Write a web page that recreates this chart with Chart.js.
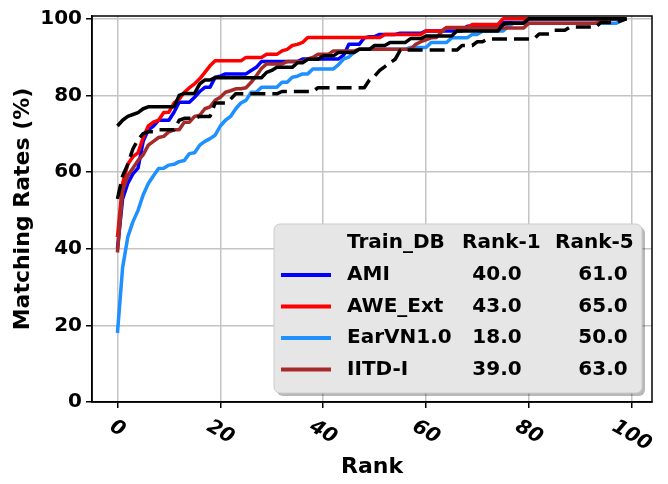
<!DOCTYPE html>
<html>
<head>
<meta charset="utf-8">
<script src="https://cdn.jsdelivr.net/npm/chart.js@4.4.1/dist/chart.umd.min.js"></script>
<style>
  html, body { margin: 0; padding: 0; background: #fff; }
</style>
</head>
<body>
<canvas id="cmcChart" width="668" height="484"></canvas>
<script>
// ===== Data =====
const rankTicks = [0, 20, 40, 60, 80, 100];
const rateTicks = [0, 20, 40, 60, 80, 100];
const legendHeader = ['Train_DB', 'Rank-1', 'Rank-5'];
const trainDBs = ['AMI', 'AWE_Ext', 'EarVN1.0', 'IITD-I'];

// matching rate (%) per rank, rank 1 at index 0
const ami = [
  40, 53, 57, 59.5, 61, 68, 71, 72, 73.5, 73.5,
  73.5, 75.6, 78.2, 78.2, 78.2, 79.5, 81, 82.1, 82.1, 84.7,
  85, 85.6, 85.6, 85.6, 85.6, 85.6, 86.5, 87.3, 88.8, 88.8,
  88.8, 88.8, 88.8, 88.8, 88.8, 88.8, 89.5, 89.5, 89.5, 89.5,
  89.5, 89.5, 89.5, 89.5, 90.5, 93.3, 93.3, 93.3, 95, 95.3,
  95.3, 95.9, 95.9, 95.9, 95.9, 96.2, 96.2, 96.2, 96.2, 96.2,
  96.8, 96.8, 96.8, 96.8, 96.8, 96.8, 96.8, 96.8, 98, 98,
  98, 98, 98, 98, 98, 99, 99, 99, 99, 99,
  100, 100, 100, 100, 100, 100, 100, 100, 100, 100,
  100, 100, 100, 100, 100, 100, 100, 100, 100, 100
];
const aweExt = [
  43, 57, 62, 64, 65, 69, 72, 73, 73.5, 75.5,
  75.6, 78, 79, 80.8, 82, 83, 84.3, 86, 87.7, 89,
  89, 89, 89, 89, 89, 89.9, 89.9, 89.9, 89.9, 90.7,
  90.7, 90.7, 91.6, 92, 93, 93.3, 93.8, 95.1, 95.1, 95.1,
  95.1, 95.1, 95.1, 95.1, 95.1, 95.1, 95.1, 95.1, 95.1, 95.1,
  95.1, 95.1, 95.9, 95.9, 95.9, 95.9, 95.9, 95.9, 95.9, 95.9,
  96.8, 96.8, 96.8, 96.8, 97.7, 97.7, 97.7, 97.7, 97.7, 98.5,
  98.5, 98.5, 98.5, 98.5, 98.5, 100, 100, 100, 100, 100,
  100, 100, 100, 100, 100, 100, 100, 100, 100, 100,
  100, 100, 100, 100, 100, 100, 100, 100, 100, 100
];
const earVN = [
  18, 35, 43, 47, 50, 54, 57, 59, 60.9, 61,
  61.8, 62, 62.7, 63, 64.8, 65, 67, 68, 68.7, 69.6,
  72, 73.5, 74.5, 76.5, 78, 78.7, 80.8, 80.8, 82.1, 82.1,
  82.1, 82.1, 83.4, 83.4, 84.7, 85, 85.6, 85.6, 86.9, 86.9,
  86.9, 86.9, 86.9, 88, 89.5, 90, 91.2, 92, 92, 92,
  92, 92, 92, 92, 92, 92, 92, 92.5, 92.5, 92.5,
  92.5, 93.8, 93.8, 93.8, 93.8, 95, 95, 95, 95, 95.9,
  95.9, 96.8, 96.8, 96.8, 96.8, 96.8, 98, 98.8, 98.8, 98.8,
  98.8, 98.8, 98.8, 98.8, 98.8, 98.8, 98.8, 98.8, 98.8, 98.8,
  98.8, 98.8, 98.8, 98.8, 98.8, 98.8, 98.8, 98.8, 99.5, 100
];
const iitd = [
  39, 55, 59, 61, 63, 64.5, 67, 68, 69, 69.3,
  70.5, 71, 71, 73, 73, 74.5, 74.8, 76.5, 77, 78.7,
  79.5, 80.8, 81.2, 81.7, 81.7, 82, 83.4, 85.1, 87, 88.2,
  88.2, 88.2, 88.2, 88.8, 88.8, 88.8, 88.8, 89.5, 89.9, 90.7,
  90.7, 90.7, 91.6, 91.6, 91.6, 91.6, 91.6, 92, 92, 92,
  92, 92, 92, 92, 92, 92, 92, 92, 93.3, 94,
  94.5, 95, 95.1, 96.5, 97.6, 97.6, 97.6, 97.6, 97.6, 97.6,
  97.6, 97.6, 97.6, 97.6, 97.6, 97.6, 97.6, 97.6, 97.6, 97.6,
  98.8, 98.8, 98.8, 98.8, 98.8, 98.8, 98.8, 98.8, 98.8, 98.8,
  98.8, 98.8, 98.8, 98.8, 99.2, 99.5, 100, 100, 100, 100
];
const otherDashed = [
  53, 59, 62, 66, 68.5, 70, 70.5, 70.5, 71, 71,
  71, 71, 73.5, 74, 74, 74, 74.5, 74.5, 74.5, 78,
  78, 78, 79, 80.4, 80.4, 80.4, 80.4, 80.4, 80.4, 80.4,
  80.4, 80.4, 81, 81, 81, 81, 81, 81, 81, 82,
  82, 82, 82, 82, 82, 82, 82, 82, 82, 84,
  85, 86.5, 87.5, 88.5, 89.4, 91.8, 91.8, 91.8, 91.8, 91.8,
  91.8, 91.8, 91.8, 91.8, 91.8, 91.8, 91.8, 93, 93, 93,
  94, 94, 94.7, 94.7, 94.7, 94.7, 94.7, 94.7, 94.7, 94.7,
  94.7, 94.7, 96, 96, 96, 97, 97, 97, 97.8, 97.8,
  97.8, 97.8, 97.8, 97.8, 99, 99, 99, 99, 99.5, 100
];
const otherSolid = [
  72, 73.5, 74.5, 75, 75.5, 76.5, 77, 77, 77, 77,
  77, 77, 80, 80.5, 80.5, 80.5, 83, 84, 84, 84.6,
  84.6, 84.6, 84.6, 84.6, 84.6, 84.6, 84.6, 84.6, 84.6, 86,
  86.5, 87.3, 87.3, 87.3, 87.3, 88.5, 88.5, 89.4, 89.4, 89.4,
  90.3, 90.3, 90.3, 91.2, 91.2, 91.2, 91.2, 92, 92, 92,
  93, 93, 93, 93.8, 93.8, 93.8, 93.8, 94.8, 94.8, 94.8,
  95.5, 95.5, 95.5, 95.5, 95.5, 95.5, 96.8, 96.8, 96.8, 96.8,
  96.8, 96.8, 96.8, 96.8, 96.8, 98.5, 98.8, 98.8, 98.8, 98.8,
  100, 100, 100, 100, 100, 100, 100, 100, 100, 100,
  100, 100, 100, 100, 100, 100, 100, 100, 100, 100
];

const legendSeries = [ami, aweExt, earVN, iitd];
const legendColors = ['#0000ff', '#ff0000', '#1e90ff', '#a52a2a'];

// rank index -> x position
const toPoints = arr => arr.map((v, i) => ({ x: i, y: v }));

Chart.defaults.font.family = '"DejaVu Sans", sans-serif';

// ===== Plugins =====
// tick labels slanted downwards to the right
const slantedTicks = {
  id: 'slantedTicks',
  afterDraw(chart) {
    const { ctx } = chart;
    const xs = chart.scales.x;
    const ang = 30 * Math.PI / 180;
    ctx.save();
    ctx.font = 'italic bold 20px "DejaVu Sans"';
    ctx.fillStyle = '#000';
    ctx.textAlign = 'center';
    ctx.textBaseline = 'middle';
    xs.ticks.forEach(t => {
      const label = String(t.value);
      const w = ctx.measureText(label).width;
      const boxH = w * Math.sin(ang) + 14.6 * Math.cos(ang);
      ctx.save();
      ctx.translate(xs.getPixelForValue(t.value), xs.top + 17 + boxH / 2);
      ctx.rotate(ang);
      ctx.fillText(label, 0, 0);
      ctx.restore();
    });
    ctx.restore();
  }
};

// full box round the plot area
const frame = {
  id: 'frame',
  afterDatasetsDraw(chart) {
    const { ctx, chartArea: a } = chart;
    ctx.save();
    ctx.strokeStyle = '#000';
    ctx.lineWidth = 1.5;
    ctx.strokeRect(a.left, a.top, a.right - a.left, a.bottom - a.top);
    ctx.restore();
  }
};

// table legend: Train_DB | Rank-1 | Rank-5
const tableLegend = {
  id: 'tableLegend',
  afterDraw(chart) {
    const { ctx } = chart;
    const bx = 274, by = 224, bw = 368, bh = 169;
    ctx.save();
    ctx.fillStyle = 'rgba(0,0,0,0.28)';
    ctx.beginPath();
    ctx.roundRect(bx + 3, by + 3, bw, bh, 6);
    ctx.fill();
    ctx.fillStyle = '#e6e6e6';
    ctx.strokeStyle = '#cccccc';
    ctx.lineWidth = 1;
    ctx.beginPath();
    ctx.roundRect(bx, by, bw, bh, 6);
    ctx.fill();
    ctx.stroke();

    ctx.font = 'bold 20px "DejaVu Sans"';
    ctx.fillStyle = '#000';
    ctx.textBaseline = 'middle';
    ctx.textAlign = 'left';
    ctx.fillText(legendHeader[0], 347, 243);
    ctx.fillText(legendHeader[1], 462, 243);
    ctx.fillText(legendHeader[2], 555, 243);

    trainDBs.forEach((name, i) => {
      const y = 275 + i * 31.5;
      ctx.strokeStyle = legendColors[i];
      ctx.lineWidth = 4;
      ctx.beginPath();
      ctx.moveTo(281, y);
      ctx.lineTo(331, y);
      ctx.stroke();
      ctx.textAlign = 'left';
      ctx.fillText(name, 347, y);
      ctx.textAlign = 'center';
      ctx.fillText(legendSeries[i][0].toFixed(1), 497, y);
      ctx.fillText(legendSeries[i][4].toFixed(1), 603, y);
    });
    ctx.restore();
  }
};

// ===== Chart.js - CMC curves =====
const ctx = document.getElementById('cmcChart').getContext('2d');
new Chart(ctx, {
  type: 'line',
  data: {
    datasets: [
      { label: trainDBs[0], data: toPoints(ami), borderColor: legendColors[0], order: 6 },
      { label: trainDBs[1], data: toPoints(aweExt), borderColor: legendColors[1], order: 5 },
      { label: trainDBs[2], data: toPoints(earVN), borderColor: legendColors[2], order: 4 },
      { label: trainDBs[3], data: toPoints(iitd), borderColor: legendColors[3], order: 3 },
      { label: 'dashed', data: toPoints(otherDashed), borderColor: '#000', borderDash: [15, 7], order: 2 },
      { label: 'solid', data: toPoints(otherSolid), borderColor: '#000', order: 1 }
    ]
  },
  options: {
    responsive: false,
    animation: false,
    devicePixelRatio: 1,
    layout: { padding: { left: 0, right: 16, top: 14, bottom: 0 } },
    elements: {
      point: { radius: 0 },
      line: { borderWidth: 3.5, tension: 0, fill: false, borderJoinStyle: 'round' }
    },
    plugins: {
      legend: { display: false },
      tooltip: { enabled: false }
    },
    scales: {
      x: {
        type: 'linear',
        min: -4.95,
        max: 103.95,
        afterBuildTicks: s => { s.ticks = rankTicks.map(v => ({ value: v })); },
        afterFit: s => { s.height = 82; },
        ticks: { display: false },
        grid: { color: '#c4c4c4', lineWidth: 1.5, tickLength: 6, tickColor: '#000', tickWidth: 1.5 },
        border: { color: '#000', width: 1.5 },
        title: {
          display: true,
          text: 'Rank',
          color: '#000',
          font: { size: 22, weight: 'bold' },
          padding: { top: 0, bottom: 4 }
        }
      },
      y: {
        min: 0,
        max: 100.7,
        afterBuildTicks: s => { s.ticks = rateTicks.map(v => ({ value: v })); },
        afterFit: s => { s.width = 92; },
        ticks: { color: '#000', padding: 4, font: { size: 20, weight: 'bold' } },
        grid: { color: '#c4c4c4', lineWidth: 1.5, tickLength: 6, tickColor: '#000', tickWidth: 1.5 },
        border: { color: '#000', width: 1.5 },
        title: {
          display: true,
          text: 'Matching Rates (%)',
          color: '#000',
          font: { size: 22, weight: 'bold' },
          padding: { top: 10, bottom: 0 }
        }
      }
    }
  },
  plugins: [frame, slantedTicks, tableLegend]
});
</script>
</body>
</html>
